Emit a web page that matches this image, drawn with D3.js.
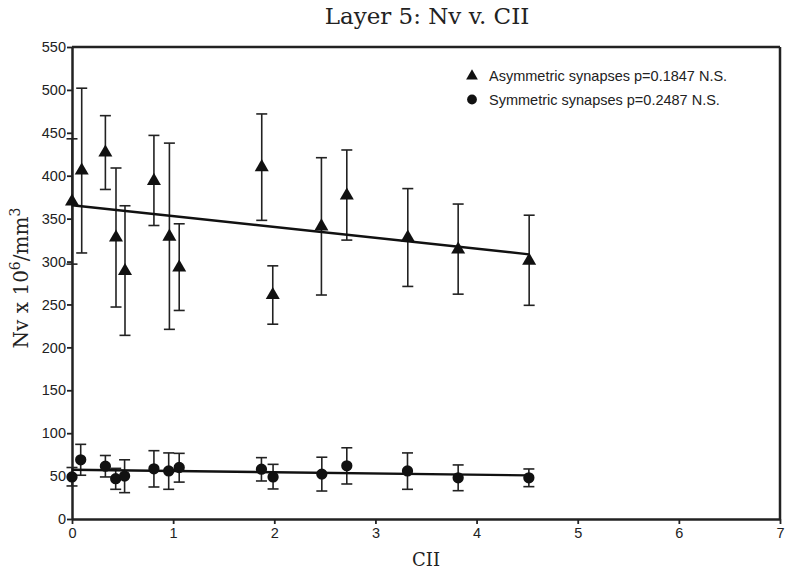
<!DOCTYPE html>
<html>
<head>
<meta charset="utf-8">
<script src="https://cdn.jsdelivr.net/npm/d3@7"></script>
<style>
  body { margin: 0; background: #fff; }
  svg { display: block; }
</style>
</head>
<body>
<div id="chart"></div>
<script>
/* Data -------------------------------------------------------------------- */

const xTicks = [0, 1, 2, 3, 4, 5, 6, 7];
const yTicks = [0, 50, 100, 150, 200, 250, 300, 350, 400, 450, 500, 550];

// Asymmetric synapses: CII, mean Nv, upper and lower error values
const asymX = [0, 0.096, 0.33, 0.435, 0.524, 0.81, 0.963, 1.06, 1.876, 1.985, 2.466, 2.717, 3.32, 3.818, 4.52];
const asymY = [370, 406, 427, 328, 289, 394, 329, 293, 410, 261, 341, 377, 328, 314, 301];
const asymHi = [443, 502, 470, 409, 365, 447, 438, 344, 472, 295, 421, 430, 385, 367, 354];
const asymLo = [297, 310, 384, 247, 214, 342, 221, 243, 348, 227, 261, 325, 271, 262, 249];

// Symmetric synapses
const symX = [0, 0.086, 0.33, 0.432, 0.52, 0.81, 0.956, 1.06, 1.873, 1.988, 2.47, 2.717, 3.317, 3.818, 4.517];
const symY = [49, 69, 61.5, 47, 50, 58.5, 56, 60, 58, 49, 52.3, 62, 56, 48, 48];
const symHi = [60, 87, 74, 59, 69, 79.6, 77, 76.5, 71.5, 63.7, 72, 83, 77, 63, 58.3];
const symLo = [38.5, 51, 49, 34.6, 30.7, 37.3, 34.6, 43, 44.3, 35, 32.6, 40.8, 34.6, 33, 37.7];

const legendLabels = [
    "Asymmetric synapses p=0.1847 N.S.",
    "Symmetric synapses p=0.2487 N.S."
];

/* Helpers ----------------------------------------------------------------- */

function linearFit(xs, ys) {
    const mx = d3.mean(xs), my = d3.mean(ys);
    let sxy = 0, sxx = 0;
    xs.forEach((x, i) => {
        sxy += (x - mx) * (ys[i] - my);
        sxx += (x - mx) * (x - mx);
    });
    const slope = sxy / sxx;
    return { slope: slope, intercept: my - slope * mx };
}

function toRows(xs, ys, hi, lo) {
    return xs.map((x, i) => ({ x: x, y: ys[i], hi: hi[i], lo: lo[i] }));
}

/* Draw graphic ------------------------------------------------------------ */

const width = 793, height = 575;
const margin = { top: 47, right: 13, bottom: 56, left: 72 };
const innerW = width - margin.left - margin.right;
const innerH = height - margin.top - margin.bottom;

const xScale = d3.scaleLinear().domain([0, 7]).range([0, innerW]);
const yScale = d3.scaleLinear().domain([0, 550]).range([innerH, 0]);

const serif = "'DejaVu Serif', 'Liberation Serif', serif";
const tickFont = "'Liberation Sans', Arial, sans-serif";

const svg = d3.select("#chart")
    .append("svg")
    .attr("width", width)
    .attr("height", height);

svg.append("rect")
    .attr("width", width)
    .attr("height", height)
    .attr("fill", "#fff");

// Title
svg.append("text")
    .attr("x", 427)
    .attr("y", 24)
    .attr("text-anchor", "middle")
    .style("font-family", serif)
    .style("font-size", "23px")
    .style("fill", "#222")
    .text("Layer 5: Nv v. CII");

const canvas = svg.append("g")
    .attr("transform", `translate(${margin.left},${margin.top})`);

// Frame (top and right)
canvas.append("line")
    .attr("x1", 0).attr("x2", innerW)
    .attr("y1", 0).attr("y2", 0)
    .attr("stroke", "#222").attr("stroke-width", 2.5);
canvas.append("line")
    .attr("x1", innerW).attr("x2", innerW)
    .attr("y1", 0).attr("y2", innerH)
    .attr("stroke", "#222").attr("stroke-width", 2.5);

// X-axis
const xAxis = canvas.append("g")
    .attr("class", "xaxis")
    .attr("transform", `translate(0,${innerH})`)
    .call(d3.axisBottom(xScale)
        .tickValues(xTicks)
        .tickFormat(d3.format("d"))
        .tickSize(5).tickPadding(4).tickSizeOuter(0));

// Y-axis
const yAxis = canvas.append("g")
    .attr("class", "yaxis")
    .call(d3.axisLeft(yScale)
        .tickValues(yTicks)
        .tickFormat(d3.format("d"))
        .tickSize(5).tickPadding(1).tickSizeOuter(0));

[xAxis, yAxis].forEach(ax => {
    ax.select(".domain").attr("stroke", "#222").attr("stroke-width", 2.5);
    ax.selectAll(".tick line").attr("stroke", "#222").attr("stroke-width", 1.8);
    ax.selectAll(".tick text")
        .style("font-family", tickFont)
        .style("font-size", "14.5px")
        .style("fill", "#222");
});

// Axis titles
svg.append("text")
    .attr("x", 426)
    .attr("y", 566)
    .attr("text-anchor", "middle")
    .style("font-family", serif)
    .style("font-size", "18px")
    .style("fill", "#222")
    .text("CII");

const yTitle = svg.append("text")
    .attr("transform", "translate(28,278) rotate(-90)")
    .attr("text-anchor", "middle")
    .style("font-family", serif)
    .style("font-size", "20px")
    .style("fill", "#222");
yTitle.append("tspan").text("Nv x 10");
yTitle.append("tspan").attr("dy", -8).style("font-size", "14px").text("6");
yTitle.append("tspan").attr("dy", 8).text("/mm");
yTitle.append("tspan").attr("dy", -8).style("font-size", "14px").text("3");

/* Series ------------------------------------------------------------------ */

const series = [
    { rows: toRows(asymX, asymY, asymHi, asymLo), fit: linearFit(asymX, asymY), symbol: d3.symbolTriangle },
    { rows: toRows(symX, symY, symHi, symLo), fit: linearFit(symX, symY), symbol: d3.symbolCircle }
];

const capHalf = 5.5;

series.forEach(s => {
    const g = canvas.append("g");

    // Error bars
    const bars = g.selectAll(".err")
        .data(s.rows)
        .enter()
        .append("g")
        .attr("stroke", "#222")
        .attr("stroke-width", 1.6);
    bars.append("line")
        .attr("x1", d => xScale(d.x)).attr("x2", d => xScale(d.x))
        .attr("y1", d => yScale(d.hi)).attr("y2", d => yScale(d.lo));
    bars.append("line")
        .attr("x1", d => xScale(d.x) - capHalf).attr("x2", d => xScale(d.x) + capHalf)
        .attr("y1", d => yScale(d.hi)).attr("y2", d => yScale(d.hi));
    bars.append("line")
        .attr("x1", d => xScale(d.x) - capHalf).attr("x2", d => xScale(d.x) + capHalf)
        .attr("y1", d => yScale(d.lo)).attr("y2", d => yScale(d.lo));

    // Fit line over the data range
    const [x0, x1] = d3.extent(s.rows, d => d.x);
    g.append("line")
        .attr("x1", xScale(x0))
        .attr("x2", xScale(x1))
        .attr("y1", yScale(s.fit.intercept + s.fit.slope * x0))
        .attr("y2", yScale(s.fit.intercept + s.fit.slope * x1))
        .attr("stroke", "#111")
        .attr("stroke-width", 2.4);

    // Markers
    g.selectAll(".pt")
        .data(s.rows)
        .enter()
        .append("path")
        .attr("d", d3.symbol().type(s.symbol).size(s.symbol === d3.symbolCircle ? 100 : 85))
        .attr("transform", d => `translate(${xScale(d.x)},${yScale(d.y)})`)
        .attr("fill", "#111");
});

/* Legend ------------------------------------------------------------------ */

const legend = svg.append("g").attr("transform", "translate(472,76)");
legendLabels.forEach((label, i) => {
    const row = legend.append("g").attr("transform", `translate(0,${i * 23.5})`);
    row.append("path")
        .attr("d", d3.symbol().type(series[i].symbol).size(i === 0 ? 60 : 75))
        .attr("fill", "#111");
    row.append("text")
        .attr("x", 17)
        .attr("y", 5)
        .style("font-family", tickFont)
        .style("font-size", "14.5px")
        .style("fill", "#222")
        .text(label);
});
</script>
</body>
</html>
